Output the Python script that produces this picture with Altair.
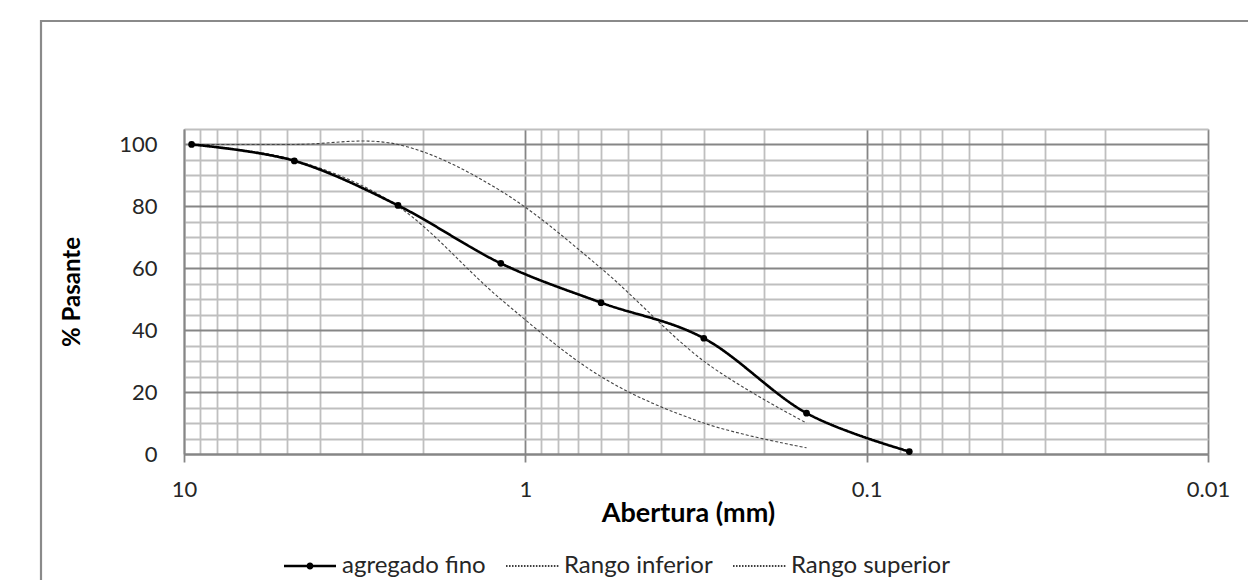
import altair as alt
import pandas as pd

# ---- data ----
series_names = ["agregado fino", "Rango inferior", "Rango superior"]

sizes_fino = [9.5, 4.75, 2.36, 1.18, 0.6, 0.3, 0.15, 0.075]
pass_fino = [100, 94.7, 80.3, 61.6, 48.9, 37.4, 13.2, 0.8]

sizes_rango = [9.5, 4.75, 2.36, 1.18, 0.6, 0.3, 0.15]
pass_inferior = [100, 95, 80, 50, 25, 10, 2]
pass_superior = [100, 100, 100, 85, 60, 30, 10]

x_tick_values = [round(m * 10 ** e, 6) for e in (-2, -1, 0) for m in range(1, 10)] + [10]
y_tick_values = list(range(0, 106, 5))

rows = []
for s, p in zip(sizes_fino, pass_fino):
    rows.append({"abertura": s, "pasante": p, "serie": series_names[0]})
for s, p in zip(sizes_rango, pass_inferior):
    rows.append({"abertura": s, "pasante": p, "serie": series_names[1]})
for s, p in zip(sizes_rango, pass_superior):
    rows.append({"abertura": s, "pasante": p, "serie": series_names[2]})
df = pd.DataFrame(rows)

FONT = "Lato"
MAJOR_GRID = "#868686"
MINOR_GRID = "#bfbfbf"

is_decade = "abs(log(datum.value)/LN10 - round(log(datum.value)/LN10)) < 0.001"
is_twenty = "datum.value % 20 == 0"

x_enc = alt.X(
    "abertura:Q",
    scale=alt.Scale(type="log", domain=[0.01, 10], reverse=True, nice=False),
    axis=alt.Axis(
        values=x_tick_values,
        grid=True,
        gridColor={"condition": {"test": is_decade, "value": MAJOR_GRID}, "value": MINOR_GRID},
        gridWidth=1.8,
        ticks=True,
        tickSize=8,
        tickWidth=1.8,
        tickColor=MAJOR_GRID,
        tickOpacity={"condition": {"test": is_decade, "value": 1}, "value": 0},
        domainColor=MAJOR_GRID,
        domainWidth=1.8,
        labelExpr=f"({is_decade}) ? toString(datum.value) : ''",
        labelOverlap=False,
        labelFlush=False,
        labelFont=FONT,
        labelFontSize=22,
        labelColor="#262626",
        labelPadding=17,
        title="Abertura (mm)",
        titleFont=FONT,
        titleFontSize=27,
        titleFontWeight="bold",
        titleColor="#000000",
        titlePadding=0,
        titleX=504,
    ),
)

y_enc = alt.Y(
    "pasante:Q",
    scale=alt.Scale(domain=[0, 105], nice=False, zero=True),
    axis=alt.Axis(
        values=y_tick_values,
        grid=True,
        gridColor={"condition": {"test": is_twenty, "value": MAJOR_GRID}, "value": MINOR_GRID},
        gridWidth=1.8,
        ticks=False,
        domainColor=MAJOR_GRID,
        domainWidth=1.8,
        labelExpr=f"({is_twenty}) && datum.value <= 100 ? toString(datum.value) : ''",
        labelOverlap=False,
        labelFont=FONT,
        labelFontSize=22,
        labelColor="#262626",
        labelPadding=27,
        title="% Pasante",
        titleFont=FONT,
        titleFontSize=24,
        titleFontWeight="bold",
        titleColor="#000000",
        titlePadding=34,
    ),
)

base = alt.Chart(df)


def series_line(name, color, width, dash):
    return base.transform_filter(alt.datum.serie == name).mark_line(
        interpolate="cardinal", color=color, strokeWidth=width, strokeDash=dash
    ).encode(x=x_enc, y=y_enc)


line_inf = series_line(series_names[1], "#444444", 1.1, [3, 2])
line_sup = series_line(series_names[2], "#444444", 1.1, [3, 2])
line_fino = series_line(series_names[0], "#000000", 2.6, [1, 0])

points = base.transform_filter(
    alt.datum.serie == series_names[0]
).mark_point(filled=True, size=45, color="#000000", opacity=1).encode(x=x_enc, y=y_enc)

# legend symbols (custom paths in a [-1,1] box, 26 px per unit)
path_fino = ("M-1,-0.05H1V0.05H-1Z "
             "M-0.135,0A0.135,0.135,0,1,1,0.135,0A0.135,0.135,0,1,1,-0.135,0Z")
dots = []
x0 = -1.0
while x0 < 0.99:
    dots.append(f"M{x0:.3f},-0.025H{x0 + 0.06:.3f}V0.025H{x0:.3f}Z")
    x0 += 0.115
path_dot = " ".join(dots)

# layer without rows that only carries the legend
legend_layer = base.transform_filter("false").mark_point(
    filled=True, color="#000000", opacity=1
).encode(
    x=x_enc,
    y=y_enc,
    shape=alt.Shape(
        "serie:N",
        scale=alt.Scale(domain=series_names, range=[path_fino, path_dot, path_dot]),
        legend=alt.Legend(
            title=None,
            orient="none",
            legendX=100,
            legendY=411,
            direction="horizontal",
            symbolSize=2704,
            symbolStrokeWidth=0,
            symbolFillColor="#000000",
            symbolOpacity=1,
            labelFont=FONT,
            labelFontSize=24,
            labelColor="#262626",
            labelOffset=6,
            columnPadding=20,
            labelLimit=400,
        ),
    ),
)

frame = alt.Chart(alt.Data(values=[{}])).mark_rect(
    fill=None, stroke="#8a8a8a", strokeWidth=2.2
).encode(
    x=alt.value(-143), x2=alt.value(1100), y=alt.value(-108), y2=alt.value(700)
)

chart = alt.layer(frame, line_inf, line_sup, line_fino, points, legend_layer).properties(
    width=1024,
    height=325,
    autosize=alt.AutoSizeParams(type="none"),
    padding={"left": 176, "top": 121, "right": 40, "bottom": 126},
).configure_view(stroke=None).configure(background="white")

chart.save("out.html", embed_options={"renderer": "svg", "actions": False})
